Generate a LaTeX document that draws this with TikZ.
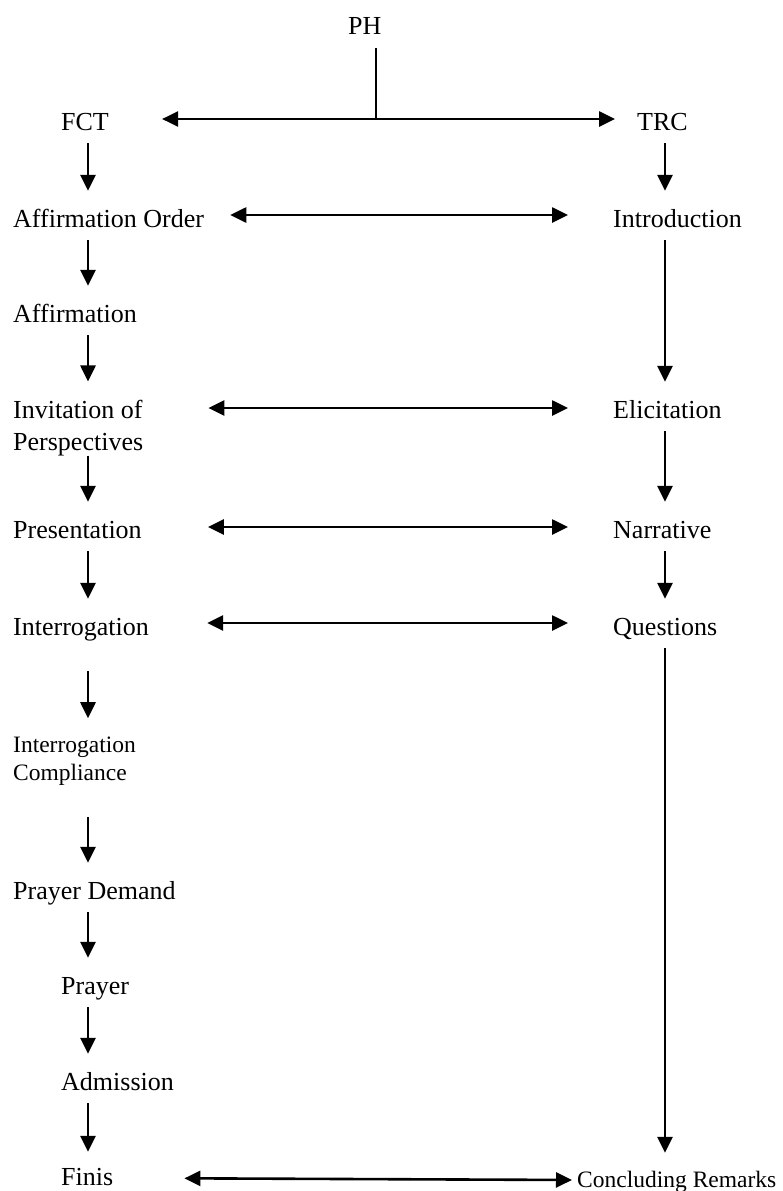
\documentclass[tikz,border=0pt]{standalone}
\usepackage{fontspec}
\setmainfont{Liberation Serif}
\usetikzlibrary{arrows.meta,positioning}

\begin{document}
\begin{tikzpicture}[x=1pt,y=-1pt,
    lbl/.style={anchor=base west,inner sep=0pt,font=\fontsize{26}{32}\selectfont},
    row/.style={lbl,text height=17pt,text depth=5pt},
    sml/.style={lbl,font=\fontsize{23.5}{28}\selectfont},
    down/.style={-{Triangle[length=16pt,width=15pt]},line width=2.6pt,shorten <=8pt,shorten >=19pt},
    link/.style={{Triangle[length=16pt,width=15pt]}-{Triangle[length=16pt,width=15pt]},line width=2.6pt},
    stem/.style={line width=1.5pt,shorten <=9pt}]
    \useasboundingbox (0,0) rectangle (782,1191);
    \coordinate (colL) at (88,0);
    \coordinate (colR) at (665,0);
    \coordinate (join) at (376,119);
    \node[row] (ph) at (348,34) {PH};
    \node[row] (fct) at (61,130) {FCT};
    \node[row] (trc) at (637,130) {TRC};
    \node[row] (ao) at (13,227) {Affirmation Order};
    \node[row] (intro) at (613,227) {Introduction};
    \node[row] (aff) at (13,322) {Affirmation};
    \node[lbl,align=left] (inv) at (13,450) {Invitation of\\Perspectives};
    \node[row] (elic) at (613,418) {Elicitation};
    \node[row] (pres) at (13,538) {Presentation};
    \node[row] (narr) at (613,538) {Narrative};
    \node[row] (intg) at (13,635) {Interrogation};
    \node[row] (quest) at (613,635) {Questions};
    \node[sml,align=left] (comp) at (13,780) {Interrogation\\Compliance};
    \node[row] (pdem) at (13,899) {Prayer Demand};
    \node[row] (pray) at (61,994) {Prayer};
    \node[row] (adm) at (61,1090) {Admission};
    \node[row] (fin) at (61,1185) {Finis};
    \node[sml,text height=15pt,text depth=5pt] (conc) at (577,1187) {Concluding Remarks};
    % PH branches out to both columns
    \draw[stem] (ph.south -| join) -- (join);
    \draw[link,shorten <=53pt,shorten >=22pt] ([yshift=11pt]fct.base east) -- ([yshift=11pt]trc.base west);
    % left column
    \draw[down] (fct.south -| colL) -- (ao.north -| colL);
    \draw[down] (ao.south -| colL) -- (aff.north -| colL);
    \draw[down,shorten >=18pt] (aff.south -| colL) -- (inv.north -| colL);
    \draw[down,shorten <=0pt] (inv.south -| colL) -- (pres.north -| colL);
    \draw[down] (pres.south -| colL) -- (intg.north -| colL);
    \draw[down,shorten <=31pt,shorten >=18pt] (intg.south -| colL) -- (comp.north -| colL);
    \draw[down,shorten <=32pt] (comp.south -| colL) -- (pdem.north -| colL);
    \draw[down] (pdem.south -| colL) -- (pray.north -| colL);
    \draw[down] (pray.south -| colL) -- (adm.north -| colL);
    \draw[down,shorten >=16pt] (adm.south -| colL) -- (fin.north -| colL);
    % right column
    \draw[down] (trc.south -| colR) -- (intro.north -| colR);
    \draw[down] (intro.south -| colR) -- (elic.north -| colR);
    \draw[down] (elic.south -| colR) -- (narr.north -| colR);
    \draw[down] (narr.south -| colR) -- (quest.north -| colR);
    \draw[down] (quest.south -| colR) -- (conc.north -| colR);
    % links across
    \draw[link,shorten <=26pt,shorten >=45pt] ([yshift=12pt]ao.base east) -- ([yshift=12pt]intro.base west);
    \draw[link,shorten <=65pt,shorten >=45pt] ([yshift=42pt]inv.base east) -- ([yshift=10pt]elic.base west);
    \draw[link,shorten <=66pt,shorten >=45pt] ([yshift=11pt]pres.base east) -- ([yshift=11pt]narr.base west);
    \draw[link,shorten <=58pt,shorten >=45pt] ([yshift=12pt]intg.base east) -- ([yshift=12pt]quest.base west);
    \draw[link,shorten <=71pt,shorten >=5pt] ([yshift=7pt]fin.base east) -- ([yshift=7pt]conc.base west);
\end{tikzpicture}
\end{document}
